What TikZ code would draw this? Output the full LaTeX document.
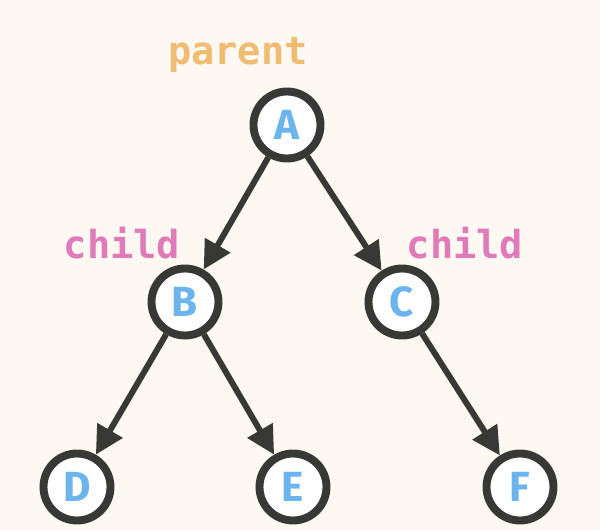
\documentclass[tikz,border=0pt]{standalone}
\usepackage{fontspec}
\usepackage{tikz}
\usetikzlibrary{arrows.meta}
\newfontfamily\tagfont{DejaVu Sans Mono}
\newfontfamily\keyfont{Fira Sans}
\definecolor{paper}{HTML}{FDF8F2}
\definecolor{ink}{HTML}{383835}
\definecolor{keyblue}{HTML}{6CB4EE}
\definecolor{parentorange}{HTML}{F0BC72}
\definecolor{childpink}{HTML}{E07AB8}

\begin{document}
\begin{tikzpicture}[
  vert/.style={circle, draw=ink, line width=4.5pt, fill=white, minimum size=1.34cm, inner sep=0pt,
    font=\keyfont\bfseries\fontsize{24}{26}\selectfont, text=keyblue},
  tag/.style={font=\tagfont\bfseries\fontsize{22}{24}\selectfont, text=#1},
  edge/.style={draw=ink, line width=3.4pt, -{Triangle[length=16pt, width=16pt]}},
]
\fill[paper] (0,0) rectangle (12,-10.6);
\useasboundingbox (0,0) rectangle (12,-10.6);

\node[vert] (A) at (5.74,-2.5) {A};
\node[vert] (B) at (3.7,-6.04) {B};
\node[vert] (C) at (8.04,-6.04) {C};
\node[vert] (D) at (1.54,-9.74) {D};
\node[vert] (E) at (5.86,-9.74) {E};
\node[vert] (F) at (10.4,-9.74) {F};

\node[tag=parentorange] (par) at (4.76,-1.1) {parent};
\node[tag=childpink] (chl) at (2.44,-4.86) {child};
\node[tag=childpink] (chr) at (9.3,-4.86) {child};

\foreach \a/\b in {A/B, A/C, B/D, B/E, C/F} \draw[edge] (\a) -- (\b);
\end{tikzpicture}
\end{document}
